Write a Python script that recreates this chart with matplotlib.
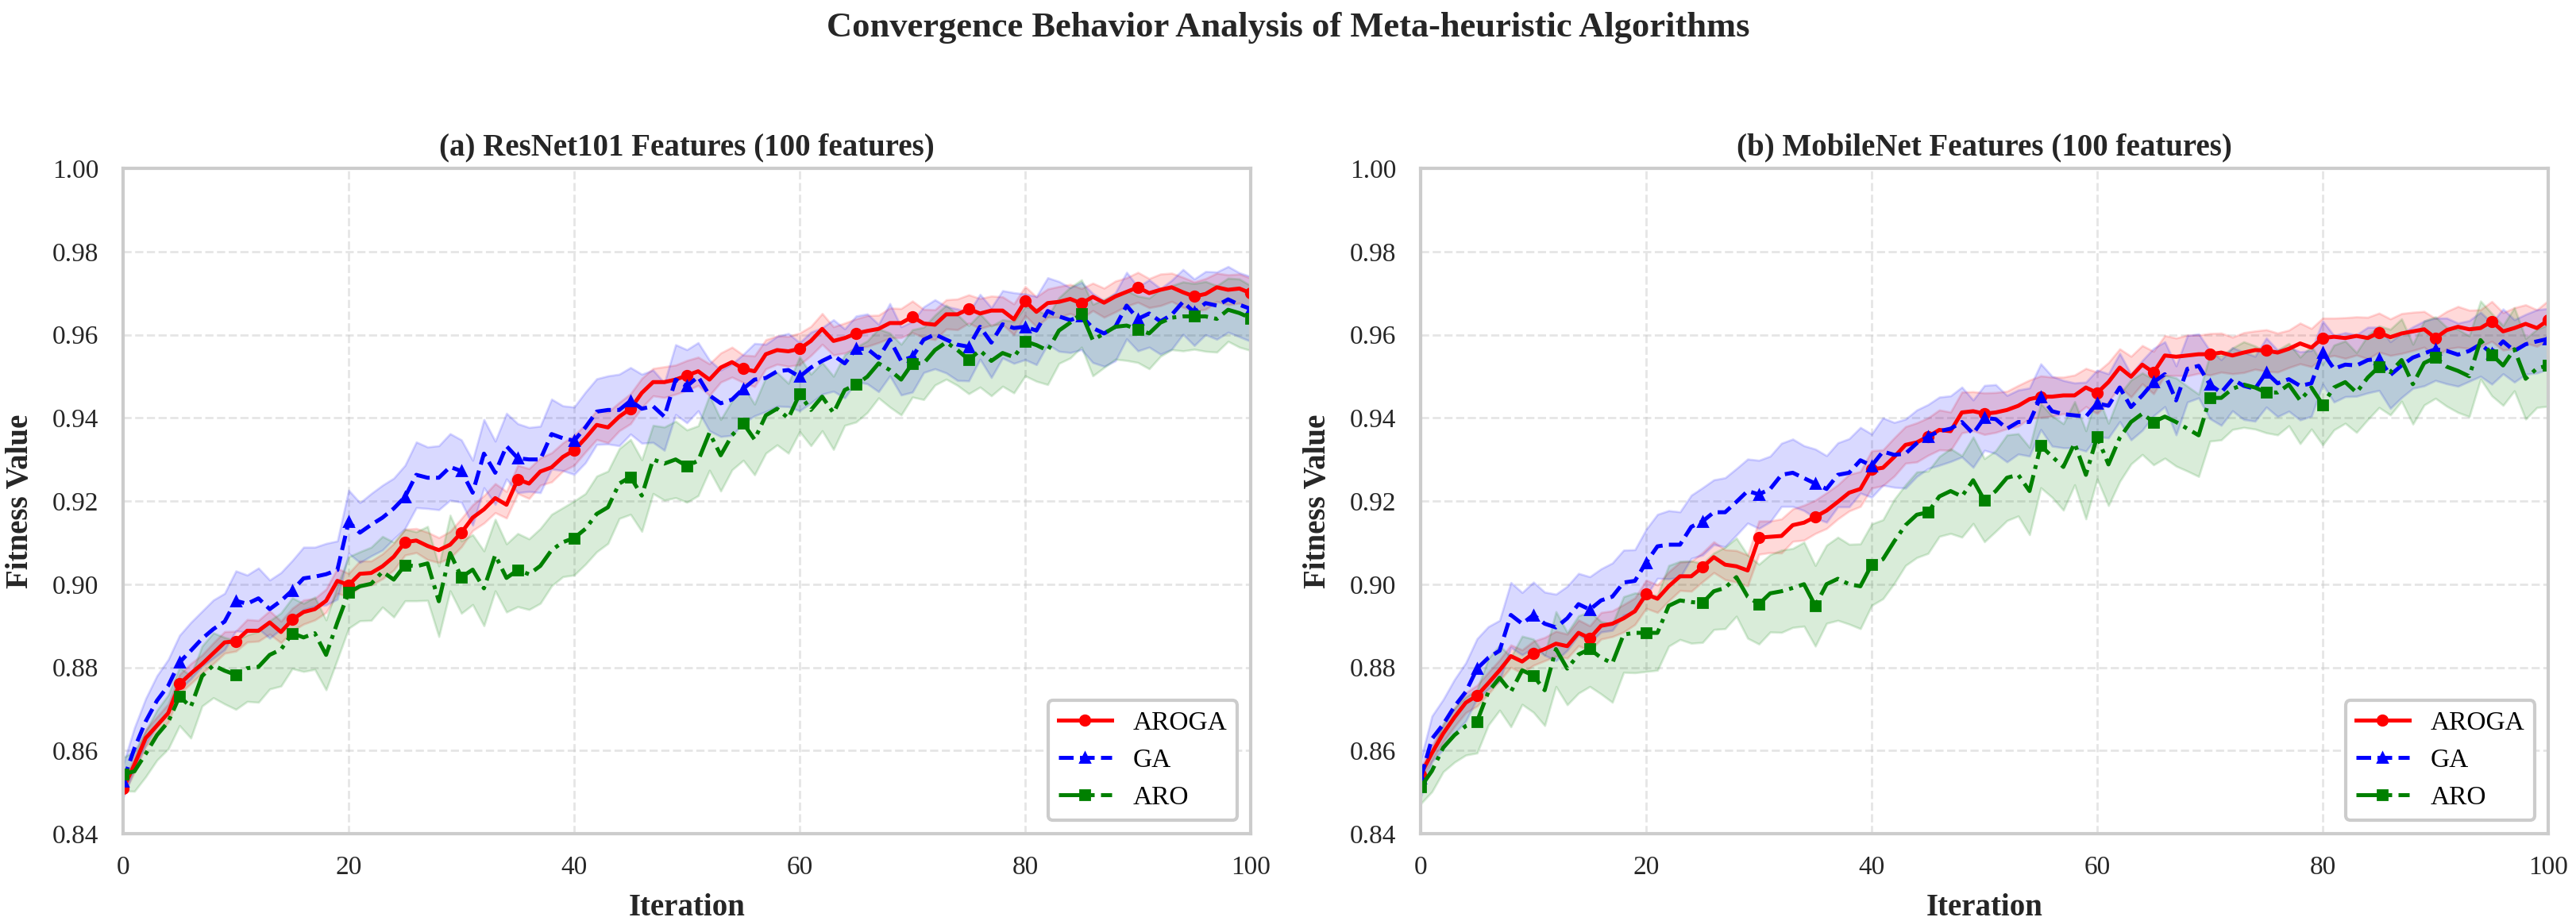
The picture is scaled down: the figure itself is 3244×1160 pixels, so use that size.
import numpy as np
import matplotlib.pyplot as plt

iterations = list(range(101))

# ResNet101 panel, mean fitness per iteration
resnet_aroga = [
    0.8508, 0.8566, 0.8630, 0.8660, 0.8690, 0.8760, 0.8785, 0.8808, 0.8834, 0.8860,
    0.8863, 0.8888, 0.8888, 0.8908, 0.8885, 0.8915, 0.8933, 0.8940, 0.8960, 0.9008,
    0.8998, 0.9025, 0.9027, 0.9043, 0.9066, 0.9101, 0.9105, 0.9092, 0.9082, 0.9095,
    0.9124, 0.9160, 0.9180, 0.9207, 0.9191, 0.9252, 0.9242, 0.9271, 0.9281, 0.9306,
    0.9322, 0.9351, 0.9383, 0.9377, 0.9403, 0.9422, 0.9460, 0.9486, 0.9486, 0.9492,
    0.9502, 0.9512, 0.9492, 0.9521, 0.9534, 0.9518, 0.9512, 0.9553, 0.9563, 0.9560,
    0.9566, 0.9585, 0.9614, 0.9585, 0.9592, 0.9603, 0.9609, 0.9614, 0.9628, 0.9628,
    0.9643, 0.9627, 0.9624, 0.9649, 0.9649, 0.9662, 0.9651, 0.9658, 0.9658, 0.9637,
    0.9681, 0.9655, 0.9676, 0.9679, 0.9686, 0.9675, 0.9691, 0.9677, 0.9692, 0.9703,
    0.9714, 0.9700, 0.9708, 0.9714, 0.9702, 0.9692, 0.9698, 0.9714, 0.9708, 0.9711,
    0.9700]
resnet_ga = [
    0.8527, 0.8605, 0.8670, 0.8720, 0.8756, 0.8812, 0.8840, 0.8869, 0.8892, 0.8910,
    0.8960, 0.8953, 0.8966, 0.8940, 0.8960, 0.8985, 0.9014, 0.9018, 0.9024, 0.9034,
    0.9150, 0.9124, 0.9143, 0.9160, 0.9182, 0.9210, 0.9263, 0.9256, 0.9256, 0.9282,
    0.9272, 0.9220, 0.9314, 0.9268, 0.9332, 0.9303, 0.9300, 0.9300, 0.9361, 0.9351,
    0.9345, 0.9377, 0.9415, 0.9419, 0.9419, 0.9441, 0.9422, 0.9428, 0.9403, 0.9492,
    0.9476, 0.9499, 0.9454, 0.9435, 0.9444, 0.9470, 0.9492, 0.9496, 0.9512, 0.9515,
    0.9499, 0.9521, 0.9537, 0.9550, 0.9531, 0.9566, 0.9566, 0.9544, 0.9588, 0.9537,
    0.9547, 0.9588, 0.9601, 0.9588, 0.9576, 0.9571, 0.9619, 0.9581, 0.9625, 0.9616,
    0.9619, 0.9610, 0.9657, 0.9644, 0.9635, 0.9645, 0.9616, 0.9603, 0.9619, 0.9670,
    0.9638, 0.9651, 0.9632, 0.9648, 0.9679, 0.9654, 0.9676, 0.9670, 0.9685, 0.9672,
    0.9662]
resnet_aro = [
    0.8543, 0.8550, 0.8592, 0.8637, 0.8669, 0.8730, 0.8705, 0.8779, 0.8805, 0.8792,
    0.8782, 0.8798, 0.8801, 0.8830, 0.8843, 0.8882, 0.8872, 0.8882, 0.8830, 0.8908,
    0.8980, 0.8995, 0.9001, 0.9030, 0.9011, 0.9046, 0.9043, 0.9050, 0.8959, 0.9075,
    0.9017, 0.9035, 0.8990, 0.9070, 0.9015, 0.9034, 0.9024, 0.9044, 0.9082, 0.9101,
    0.9111, 0.9133, 0.9169, 0.9185, 0.9242, 0.9258, 0.9213, 0.9300, 0.9290, 0.9300,
    0.9284, 0.9297, 0.9364, 0.9310, 0.9358, 0.9387, 0.9348, 0.9406, 0.9422, 0.9399,
    0.9457, 0.9419, 0.9451, 0.9412, 0.9467, 0.9480, 0.9499, 0.9531, 0.9515, 0.9492,
    0.9531, 0.9531, 0.9563, 0.9582, 0.9563, 0.9540, 0.9562, 0.9537, 0.9556, 0.9546,
    0.9584, 0.9575, 0.9562, 0.9610, 0.9629, 0.9651, 0.9587, 0.9603, 0.9619, 0.9622,
    0.9613, 0.9603, 0.9629, 0.9641, 0.9644, 0.9644, 0.9644, 0.9638, 0.9660, 0.9652,
    0.9640]

# MobileNet panel
mobilenet_aroga = [
    0.8542, 0.8594, 0.8641, 0.8680, 0.8715, 0.8732, 0.8762, 0.8793, 0.8827, 0.8814,
    0.8834, 0.8844, 0.8857, 0.8851, 0.8883, 0.8870, 0.8900, 0.8905, 0.8918, 0.8935,
    0.8976, 0.8965, 0.8995, 0.9019, 0.9019, 0.9041, 0.9065, 0.9047, 0.9043, 0.9033,
    0.9112, 0.9114, 0.9116, 0.9142, 0.9148, 0.9162, 0.9177, 0.9198, 0.9220, 0.9229,
    0.9276, 0.9280, 0.9306, 0.9335, 0.9341, 0.9355, 0.9371, 0.9368, 0.9413, 0.9416,
    0.9410, 0.9413, 0.9419, 0.9429, 0.9445, 0.9451, 0.9451, 0.9454, 0.9454, 0.9473,
    0.9460, 0.9486, 0.9521, 0.9499, 0.9528, 0.9509, 0.9550, 0.9547, 0.9550, 0.9553,
    0.9553, 0.9557, 0.9550, 0.9557, 0.9563, 0.9562, 0.9557, 0.9566, 0.9579, 0.9569,
    0.9592, 0.9595, 0.9592, 0.9597, 0.9592, 0.9605, 0.9594, 0.9603, 0.9608, 0.9613,
    0.9592, 0.9611, 0.9619, 0.9613, 0.9616, 0.9632, 0.9608, 0.9616, 0.9626, 0.9616,
    0.9635]
mobilenet_ga = [
    0.8533, 0.8628, 0.8663, 0.8706, 0.8741, 0.8797, 0.8823, 0.8840, 0.8926, 0.8905,
    0.8926, 0.8905, 0.8896, 0.8918, 0.8952, 0.8939, 0.8961, 0.8970, 0.9004, 0.9008,
    0.9052, 0.9091, 0.9095, 0.9095, 0.9138, 0.9151, 0.9173, 0.9173, 0.9198, 0.9224,
    0.9216, 0.9229, 0.9263, 0.9268, 0.9255, 0.9242, 0.9229, 0.9263, 0.9268, 0.9298,
    0.9285, 0.9319, 0.9311, 0.9314, 0.9339, 0.9355, 0.9368, 0.9374, 0.9390, 0.9362,
    0.9400, 0.9397, 0.9374, 0.9390, 0.9390, 0.9451, 0.9416, 0.9409, 0.9406, 0.9403,
    0.9435, 0.9429, 0.9473, 0.9426, 0.9454, 0.9486, 0.9505, 0.9442, 0.9518, 0.9525,
    0.9480, 0.9461, 0.9493, 0.9477, 0.9470, 0.9509, 0.9483, 0.9493, 0.9477, 0.9483,
    0.9557, 0.9518, 0.9528, 0.9526, 0.9539, 0.9542, 0.9503, 0.9526, 0.9545, 0.9555,
    0.9565, 0.9561, 0.9552, 0.9561, 0.9577, 0.9555, 0.9584, 0.9561, 0.9577, 0.9584,
    0.9590]
mobilenet_aro = [
    0.8512, 0.8551, 0.8607, 0.8637, 0.8659, 0.8670, 0.8741, 0.8775, 0.8741, 0.8793,
    0.8780, 0.8745, 0.8844, 0.8797, 0.8831, 0.8844, 0.8823, 0.8810, 0.8879, 0.8883,
    0.8883, 0.8883, 0.8948, 0.8961, 0.8957, 0.8955, 0.8983, 0.8991, 0.9017, 0.8970,
    0.8952, 0.8978, 0.8983, 0.8991, 0.9000, 0.8948, 0.9000, 0.9013, 0.9000, 0.8995,
    0.9047, 0.9060, 0.9103, 0.9142, 0.9167, 0.9173, 0.9211, 0.9224, 0.9211, 0.9250,
    0.9202, 0.9224, 0.9256, 0.9263, 0.9224, 0.9333, 0.9307, 0.9282, 0.9339, 0.9263,
    0.9355, 0.9288, 0.9352, 0.9390, 0.9410, 0.9390, 0.9403, 0.9390, 0.9374, 0.9358,
    0.9448, 0.9448, 0.9470, 0.9480, 0.9473, 0.9461, 0.9461, 0.9480, 0.9442, 0.9473,
    0.9432, 0.9473, 0.9486, 0.9461, 0.9497, 0.9523, 0.9510, 0.9539, 0.9481, 0.9532,
    0.9545, 0.9523, 0.9513, 0.9500, 0.9587, 0.9552, 0.9526, 0.9565, 0.9494, 0.9519,
    0.9526]

# spread (std) per iteration, in thousandths of fitness
resnet_aroga_std = [
    1.5, 1.8, 2.0, 2.1, 2.2, 2.3, 2.4, 2.2, 2.5, 2.6, 2.4, 2.7, 2.5, 2.8, 2.6, 2.7, 2.9, 2.6, 2.8, 3.0,
    2.8, 3.1, 2.9, 3.0, 3.2, 3.1, 2.9, 3.3, 3.0, 3.2, 3.4, 3.1, 3.3, 3.5, 3.2, 3.4, 3.6, 3.3, 3.5, 3.4,
    3.6, 3.3, 3.5, 3.7, 3.4, 3.6, 3.5, 3.3, 3.7, 3.5, 3.6, 3.4, 3.8, 3.5, 3.6, 3.3, 3.7, 3.5, 3.4, 3.6,
    3.8, 3.5, 3.7, 3.4, 3.6, 3.5, 3.7, 3.3, 3.6, 3.5, 3.8, 3.4, 3.6, 3.5, 3.7, 3.4, 3.6, 3.5, 3.3, 3.7,
    3.5, 3.6, 3.4, 3.7, 3.5, 3.6, 3.3, 3.5, 3.7, 3.4, 3.6, 3.5, 3.8, 3.4, 3.6, 3.5, 3.7, 3.4, 3.6, 3.5,
    3.6]
resnet_ga_std = [
    4.0, 5.0, 5.5, 6.0, 6.3, 6.5, 6.8, 6.6, 7.0, 6.8, 7.2, 6.9, 7.3, 7.0, 6.8, 7.2, 7.5, 7.1, 7.4, 7.0,
    7.6, 7.2, 7.5, 7.8, 7.3, 7.6, 7.9, 7.4, 7.7, 8.0, 7.5, 7.8, 8.2, 7.6, 7.9, 8.3, 7.7, 8.0, 8.4, 7.8,
    8.1, 8.5, 7.9, 8.2, 8.6, 8.0, 8.3, 8.7, 8.1, 8.4, 8.8, 8.2, 8.5, 8.0, 8.6, 8.3, 8.7, 8.1, 8.4, 8.8,
    8.2, 8.5, 8.0, 8.6, 8.3, 7.9, 8.4, 8.1, 8.7, 8.2, 8.5, 7.9, 8.3, 8.0, 8.6, 8.2, 7.8, 8.4, 8.1, 8.5,
    7.9, 8.2, 8.0, 8.4, 7.8, 8.1, 8.3, 7.9, 8.2, 8.0, 7.7, 8.1, 7.9, 8.3, 7.8, 8.0, 7.6, 8.1, 7.9, 7.7,
    7.8]
resnet_aro_std = [
    4.0, 4.8, 5.5, 6.0, 6.5, 7.0, 7.5, 7.2, 7.8, 8.0, 8.3, 8.0, 8.5, 8.2, 8.8, 8.5, 8.2, 8.7, 8.4, 8.9,
    8.6, 8.3, 8.8, 8.5, 9.0, 8.6, 8.3, 8.9, 8.5, 9.1, 8.7, 8.4, 9.0, 8.6, 8.2, 8.8, 8.5, 9.0, 8.6, 8.3,
    8.9, 8.5, 9.1, 8.7, 8.4, 9.0, 8.6, 8.2, 8.8, 9.2, 8.7, 8.4, 9.0, 8.6, 8.3, 8.9, 8.5, 9.1, 8.7, 8.4,
    9.0, 8.6, 8.2, 8.8, 8.5, 9.0, 8.6, 8.3, 8.9, 8.5, 8.1, 8.7, 8.4, 8.9, 8.5, 8.2, 8.8, 8.4, 8.0, 8.6,
    8.3, 8.7, 8.2, 7.9, 8.5, 8.1, 8.6, 8.2, 7.8, 8.4, 8.0, 8.5, 8.1, 7.7, 8.3, 7.9, 8.4, 8.0, 7.6, 8.2,
    7.8]
mobilenet_aroga_std = [
    1.5, 1.8, 2.0, 2.2, 2.4, 2.5, 2.6, 2.5, 2.7, 2.8, 2.9, 2.8, 3.0, 2.9, 3.1, 3.0, 3.2, 3.1, 3.3, 3.2,
    3.4, 3.3, 3.5, 3.4, 3.6, 3.5, 3.7, 3.6, 3.8, 3.7, 4.0, 3.8, 4.1, 3.9, 4.2, 4.0, 4.3, 4.1, 4.4, 4.2,
    4.5, 4.3, 4.6, 4.4, 4.7, 4.5, 4.8, 4.6, 4.9, 4.7, 5.0, 4.8, 4.5, 4.9, 4.6, 5.0, 4.7, 4.4, 4.9, 4.6,
    5.0, 4.7, 4.5, 4.9, 4.6, 5.1, 4.8, 4.5, 4.9, 4.6, 5.0, 4.7, 4.4, 4.8, 4.6, 5.0, 4.7, 4.5, 4.9, 4.6,
    4.8, 4.5, 4.9, 4.6, 5.0, 4.7, 4.4, 4.8, 4.6, 4.3, 4.7, 4.5, 4.9, 4.6, 4.4, 4.8, 4.5, 4.9, 4.6, 4.4,
    4.7]
mobilenet_ga_std = [
    4.5, 5.5, 6.0, 6.5, 7.0, 7.2, 7.5, 7.3, 7.8, 7.5, 7.9, 7.6, 8.0, 7.7, 7.4, 7.9, 7.6, 8.1, 7.8, 7.5,
    8.0, 7.7, 8.2, 7.9, 7.6, 8.1, 7.8, 8.3, 8.0, 7.7, 8.2, 7.9, 7.6, 8.1, 7.8, 8.3, 8.0, 7.7, 8.2, 7.9,
    7.6, 8.1, 7.8, 8.3, 8.0, 7.7, 8.2, 7.9, 8.4, 8.1, 7.8, 8.3, 8.0, 7.7, 8.2, 7.9, 8.4, 8.1, 7.8, 8.3,
    8.0, 7.7, 8.2, 7.9, 8.4, 8.1, 7.8, 8.3, 8.0, 7.7, 8.2, 7.9, 7.6, 8.1, 7.8, 8.3, 8.0, 7.7, 8.2, 7.9,
    7.6, 8.0, 7.7, 7.4, 7.9, 7.6, 8.0, 7.7, 7.4, 7.8, 7.5, 7.9, 7.6, 7.3, 7.7, 7.4, 7.8, 7.5, 7.2, 7.6,
    7.3]
mobilenet_aro_std = [
    4.0, 5.0, 5.8, 6.5, 7.0, 7.6, 8.0, 7.8, 8.4, 8.2, 8.8, 8.5, 9.0, 8.7, 9.3, 9.0, 8.7, 9.4, 9.1, 9.6,
    9.3, 9.0, 9.7, 9.4, 9.9, 9.5, 9.2, 9.8, 9.4, 10.0, 9.6, 9.3, 9.9, 9.5, 10.1, 9.7, 9.4, 10.0, 9.6, 10.2,
    9.8, 9.5, 10.1, 9.7, 10.3, 9.9, 9.6, 10.2, 9.8, 10.4, 10.0, 9.7, 10.3, 9.9, 10.5, 10.1, 9.8, 10.4, 10.0, 10.6,
    10.2, 9.9, 10.5, 10.1, 9.8, 10.3, 10.0, 10.6, 10.2, 9.9, 10.4, 10.1, 9.8, 10.3, 10.0, 9.7, 10.2, 9.9, 10.4, 10.0,
    9.7, 10.2, 9.9, 9.6, 10.1, 9.8, 10.3, 9.9, 9.6, 10.1, 9.8, 9.5, 10.0, 9.7, 9.4, 9.9, 9.6, 10.0, 9.7, 9.4,
    9.8]

algorithms = ['AROGA', 'GA', 'ARO']
colors = ['red', 'blue', 'green']
linestyles = ['-', '--', '-.']
markers = ['o', '^', 's']

panel_titles = ['(a) ResNet101 Features (100 features)', '(b) MobileNet Features (100 features)']
x_ticks = [0, 20, 40, 60, 80, 100]
y_ticks = [0.84, 0.86, 0.88, 0.90, 0.92, 0.94, 0.96, 0.98, 1.00]


def draw_panel(ax, means, stds, title):
    x = np.array(iterations)
    for mean, std, name, color, ls, mk in zip(means, stds, algorithms, colors, linestyles, markers):
        mean = np.array(mean)
        std = np.array(std) / 1000.0
        ax.fill_between(x, mean - std, mean + std, color=color, alpha=0.15, linewidth=1)
        ax.plot(x, mean, color=color, linestyle=ls, marker=mk, markevery=5,
                markersize=4.5, linewidth=1.8, label=name)

    ax.set_xlim(0, 100)
    ax.set_ylim(0.84, 1.00)
    ax.set_xticks(x_ticks)
    ax.set_yticks(y_ticks)
    ax.set_yticklabels(['%.2f' % v for v in y_ticks])
    ax.grid(True, linestyle='--', color='#cccccc', alpha=0.5, linewidth=1.0)
    ax.set_axisbelow(True)
    for spine in ax.spines.values():
        spine.set_color('#cccccc')
        spine.set_linewidth(1.5)
    ax.tick_params(axis='both', length=0, labelsize=12, colors='#262626')
    ax.tick_params(axis='x', pad=10)
    ax.tick_params(axis='y', pad=11)

    ax.set_title(title, fontsize=14, fontweight='bold', color='#262626', pad=6)
    ax.set_xlabel('Iteration', fontsize=14, fontweight='bold', color='#262626', labelpad=6)
    ax.set_ylabel('Fitness Value', fontsize=14, fontweight='bold', color='#262626', labelpad=8)

    leg = ax.legend(loc='lower right', fontsize=12, frameon=True, fancybox=True,
                    framealpha=1.0, edgecolor='#cccccc')
    leg.get_frame().set_linewidth(1.5)


def main():
    plt.rcParams['font.family'] = ['Liberation Serif', 'DejaVu Serif']

    fig = plt.figure(figsize=(16.22, 5.8), dpi=200)
    ax1 = fig.add_axes([0.0478, 0.0948, 0.4377, 0.7224])
    ax2 = fig.add_axes([0.5515, 0.0948, 0.4377, 0.7224])

    draw_panel(ax1, [resnet_aroga, resnet_ga, resnet_aro],
               [resnet_aroga_std, resnet_ga_std, resnet_aro_std], panel_titles[0])
    draw_panel(ax2, [mobilenet_aroga, mobilenet_ga, mobilenet_aro],
               [mobilenet_aroga_std, mobilenet_ga_std, mobilenet_aro_std], panel_titles[1])

    fig.text(0.5, 0.960, 'Convergence Behavior Analysis of Meta-heuristic Algorithms',
             ha='center', va='baseline', fontsize=16, fontweight='bold', color='#262626')

    fig.savefig('out.png', dpi=200)


if __name__ == '__main__':
    main()
